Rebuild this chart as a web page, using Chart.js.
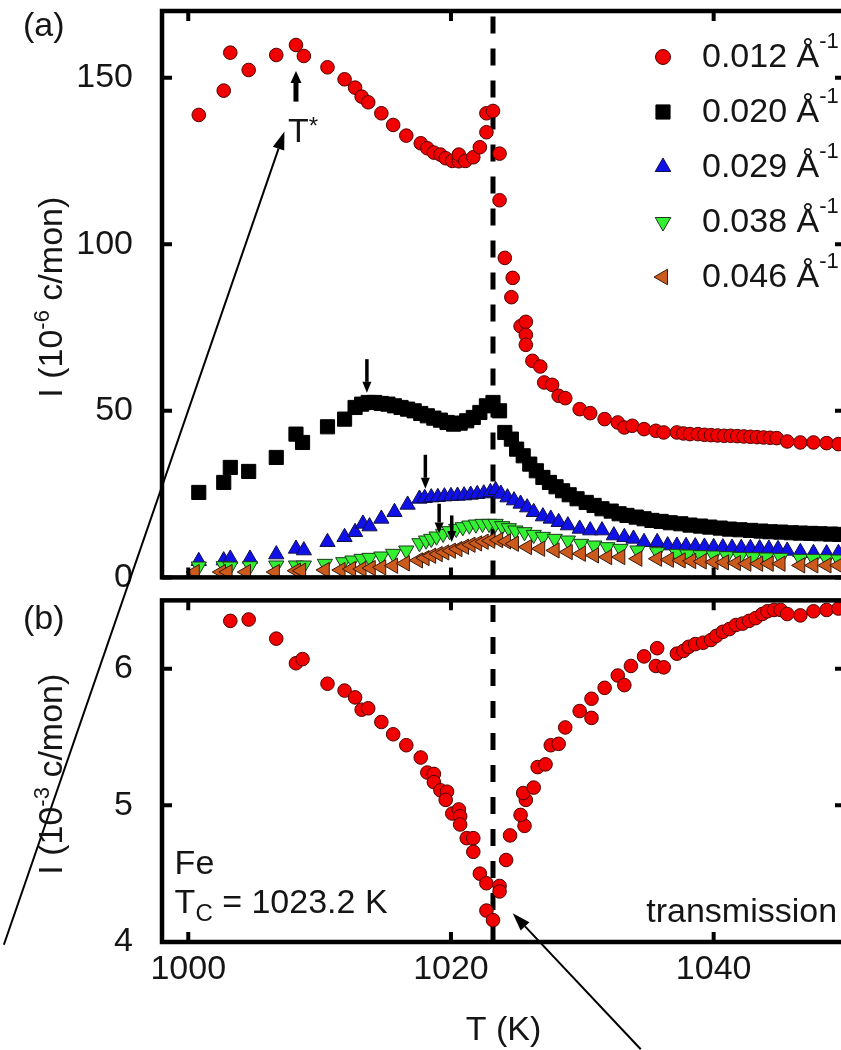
<!DOCTYPE html>
<html><head><meta charset="utf-8">
<script src="https://cdn.jsdelivr.net/npm/chart.js@4.4.0/dist/chart.umd.min.js"></script>
<style>html,body{margin:0;padding:0;overflow:hidden;background:#fff;width:841px;height:1050px}canvas{display:block}</style>
</head><body>
<canvas id="c" width="860" height="1050" style="width:860px;height:1050px"></canvas>
<script>
// ---------- data ----------
const qLabels = ['0.012', '0.020', '0.029', '0.038', '0.046'];
const TC = 1023.2;

const redT = [1000.8,1002.7,1003.2,1004.6,1006.7,1008.2,1008.8,1010.6,1011.9,1012.7,1013.2,1013.7,1014.7,1015.6,1016.6,1017.7,1018.2,1018.7,1019.2,1019.6,1020.1,1020.6,1020.6,1021.1,1021.7,1022.2,1022.7,1022.7,1023.2,1023.7,1023.7,1024.1,1024.7,1024.6,1025.3,1025.7,1025.7,1025.7,1026.2,1026.8,1027.1,1027.7,1028.2,1028.7,1029.8,1030.6,1031.7,1032.7,1033.2,1033.8,1034.7,1035.6,1036.2,1037.2,1037.7,1038.2,1038.8,1039.3,1039.8,1040.3,1040.8,1041.3,1041.8,1042.3,1042.8,1043.3,1043.8,1044.3,1044.8,1045.6,1046.6,1047.6,1048.6,1049.5];
const redV = [138.8,146.1,157.5,152.3,156.8,159.8,156.5,153.1,149.5,147.0,144.3,142.6,139.3,135.8,132.6,130.3,128.8,127.5,126.9,125.8,125.0,124.9,126.9,125.0,126.1,129.1,133.6,139.3,140.0,127.2,113.2,95.9,89.9,84.1,75.4,76.7,72.8,69.8,65.0,63.3,58.5,57.8,54.5,53.8,50.5,49.3,47.5,46.5,45.0,45.5,44.5,44.0,43.5,43.5,43.2,43.0,43.0,42.8,42.7,42.6,42.5,42.5,42.4,42.3,42.2,42.1,42.0,41.9,41.8,40.8,40.5,40.5,40.3,40.0];

const blackT = [1000.8,1002.7,1003.2,1004.6,1006.7,1008.2,1008.7,1010.6,1011.9,1012.7,1013.2,1013.7,1014.2,1014.7,1015.2,1015.7,1016.2,1016.7,1017.2,1017.7,1018.2,1018.7,1019.2,1019.7,1020.2,1020.7,1021.2,1021.7,1022.2,1022.7,1023.2,1023.7,1024.1,1024.6,1025.0,1025.5,1026.0,1026.5,1027.0,1027.5,1028.0,1028.5,1029.0,1029.6,1030.3,1030.9,1031.5,1032.2,1032.8,1033.4,1034.1,1034.7,1035.3,1036.0,1036.7,1037.5,1038.2,1039.0,1039.7,1040.5,1041.2,1042.0,1042.8,1043.6,1044.3,1045.1,1045.9,1046.6,1047.4,1048.1,1048.9,1049.6];
const blackV = [25.5,28.5,33.0,31.8,36.0,43.0,40.5,45.2,47.5,51.0,52.0,52.5,52.5,52.2,52.0,51.5,51.0,50.5,50.0,49.2,48.5,47.8,47.2,46.5,46.0,46.3,47.0,48.0,49.5,51.5,52.5,50.0,43.5,41.5,38.5,36.5,34.0,32.0,30.0,28.5,27.2,26.0,24.8,23.6,22.5,21.6,20.6,19.9,19.1,18.6,18.1,17.6,17.1,16.8,16.4,16.1,15.7,15.4,15.1,14.8,14.5,14.3,14.1,13.9,13.7,13.6,13.4,13.3,13.2,13.1,13.0,12.9];

const blueT = [1000.8,1002.7,1003.2,1004.7,1006.7,1008.2,1008.8,1010.6,1011.9,1012.7,1013.3,1013.8,1014.7,1015.7,1016.7,1017.6,1018.0,1018.5,1019.0,1019.5,1020.0,1020.5,1021.0,1021.5,1022.0,1022.5,1023.0,1023.4,1023.8,1024.3,1024.8,1025.3,1025.8,1026.3,1027.0,1027.6,1028.2,1028.9,1029.8,1030.6,1031.5,1032.4,1033.2,1033.9,1034.7,1035.7,1036.5,1037.2,1037.9,1038.6,1039.3,1040.0,1040.7,1041.4,1042.1,1042.8,1043.5,1044.2,1044.9,1045.6,1046.6,1047.6,1048.6,1049.5];
const blueV = [4.9,5.1,5.6,5.6,6.9,8.6,8.1,10.6,12.1,13.6,16.1,15.3,17.6,19.6,21.8,23.6,23.8,24.0,24.1,24.3,24.4,24.5,24.6,24.8,25.0,25.2,25.6,26.2,25.1,24.0,23.1,22.1,21.0,19.6,18.3,17.6,16.6,15.6,14.6,14.1,14.1,12.6,12.1,11.6,10.6,10.6,9.6,9.5,9.4,9.3,9.2,9.1,9.0,8.9,8.8,8.8,8.7,8.6,8.5,8.0,7.6,7.3,7.2,7.3];

const greenT = [1000.8,1002.7,1003.2,1004.7,1006.7,1008.2,1008.8,1010.4,1011.8,1012.5,1013.2,1013.8,1014.7,1015.6,1016.6,1017.6,1018.1,1018.5,1018.9,1019.4,1019.9,1020.4,1020.9,1021.4,1021.9,1022.4,1022.9,1023.4,1023.9,1024.4,1024.9,1025.6,1026.3,1027.0,1027.9,1028.9,1029.9,1030.9,1031.9,1032.9,1034.2,1035.7,1037.2,1038.0,1039.0,1040.0,1041.0,1042.0,1043.0,1044.0,1045.1,1046.6,1047.6,1048.6,1049.5];
const greenV = [3.3,3.4,3.3,3.4,3.6,3.6,3.6,4.1,4.6,5.1,5.6,5.9,6.3,7.1,8.1,10.3,11.1,11.6,12.3,13.1,13.9,14.6,15.1,15.6,15.9,16.1,16.1,16.1,15.4,14.8,14.1,13.6,12.8,12.2,11.6,11.1,10.1,9.6,9.1,8.6,8.1,7.6,7.1,6.9,6.7,6.6,6.4,6.2,6.1,6.0,5.9,5.6,5.6,5.5,5.4];

const brownT = [1000.5,1002.5,1003.0,1004.4,1006.6,1008.2,1008.6,1010.4,1011.6,1012.4,1013.2,1013.9,1014.7,1015.6,1016.5,1017.5,1018.0,1018.5,1019.0,1019.5,1020.0,1020.5,1021.0,1021.5,1022.0,1022.5,1023.0,1023.6,1024.2,1024.8,1025.8,1026.8,1027.9,1028.9,1029.9,1030.9,1031.9,1032.9,1034.2,1035.7,1036.6,1037.5,1038.3,1039.1,1040.0,1040.8,1041.7,1042.5,1043.4,1044.2,1045.1,1046.6,1047.6,1048.6,1049.5];
const brownV = [1.6,1.6,1.6,1.6,1.6,2.0,2.0,2.2,2.2,2.5,2.5,2.8,3.0,3.5,4.2,5.1,5.8,6.5,7.0,7.5,8.0,8.5,9.2,9.8,10.2,10.7,11.0,11.2,10.8,10.1,9.1,8.6,8.1,7.6,7.1,6.6,6.1,6.1,5.6,5.6,5.3,5.1,4.9,4.8,4.6,4.5,4.3,4.1,4.1,4.1,4.1,3.6,3.6,3.6,3.6];

const transT = [1003.2,1004.6,1006.7,1008.2,1008.7,1010.6,1011.9,1012.7,1013.2,1013.7,1014.7,1015.6,1016.6,1017.7,1018.2,1018.7,1018.7,1019.2,1019.7,1019.6,1020.1,1020.6,1020.7,1020.7,1021.2,1021.7,1021.7,1022.2,1022.7,1022.7,1023.2,1023.7,1023.7,1024.2,1024.5,1025.6,1025.3,1025.7,1025.5,1026.3,1026.6,1027.2,1027.6,1028.2,1028.7,1029.8,1030.7,1030.7,1031.7,1032.7,1033.2,1033.7,1034.7,1035.7,1035.6,1036.2,1037.2,1037.7,1038.1,1038.6,1039.2,1039.8,1040.2,1040.7,1041.2,1041.7,1042.2,1042.7,1043.2,1043.7,1044.1,1044.6,1045.1,1045.6,1046.6,1047.6,1048.6,1049.5];
const transV = [6.35,6.36,6.22,6.04,6.07,5.89,5.84,5.79,5.70,5.71,5.61,5.52,5.44,5.35,5.24,5.23,5.17,5.11,5.10,5.04,4.94,4.97,4.92,4.86,4.76,4.76,4.66,4.50,4.43,4.23,4.16,4.41,4.37,4.60,4.78,4.85,4.93,5.04,5.09,5.13,5.28,5.30,5.44,5.45,5.57,5.69,5.64,5.78,5.86,5.95,5.88,6.02,6.09,6.15,6.02,6.01,6.11,6.13,6.16,6.18,6.19,6.21,6.24,6.27,6.29,6.32,6.33,6.35,6.37,6.40,6.42,6.43,6.43,6.40,6.39,6.42,6.43,6.44];

// axis ranges / ticks
const xRange = [998, 1050], xStep = 20;
const topRange = [0, 170], topStep = 50;
const botRange = [4, 6.5], botStep = 1;

// annotations (data coordinates)
const peakArrows = [ // [T, from, to, lineWidth]
  [1008.2, 142.8, 152.0, 5],
  [1013.6, 65.5, 55.4, 3.5],
  [1018.05, 36.8, 26.6, 3.5],
  [1019.1, 22.1, 13.2, 3.5],
  [1020.06, 18.6, 10.6, 3.5]
];

// ---------- chart ----------
const FONT = '"Liberation Sans", Arial, Helvetica, sans-serif';
const TXT = '#151515';
const pts = (T, V) => T.map((t, i) => ({x: t, y: V[i]}));

const common = {showLine: false, pointBorderWidth: 1, pointHoverRadius: 0};
const datasets = [
  Object.assign({label: qLabels[0], data: pts(redT, redV), yAxisID: 'yTop', pointStyle: 'circle', pointRadius: 6.8,
    pointBackgroundColor: '#f00000', pointBorderColor: '#500000', order: 5, isQ: true}, common),
  Object.assign({label: qLabels[1], data: pts(blackT, blackV), yAxisID: 'yTop', pointStyle: 'rect', pointRadius: 10,
    pointBackgroundColor: '#000000', pointBorderColor: '#000000', order: 4, isQ: true}, common),
  Object.assign({label: qLabels[2], data: pts(blueT, blueV), yAxisID: 'yTop', pointStyle: 'triangle', pointRadius: 8.8,
    pointBackgroundColor: '#1010e8', pointBorderColor: '#10104a', order: 3, isQ: true}, common),
  Object.assign({label: qLabels[3], data: pts(greenT, greenV), yAxisID: 'yTop', pointStyle: 'triangle', pointRotation: 180, pointRadius: 8.8,
    pointBackgroundColor: '#33f033', pointBorderColor: '#1a3a1a', order: 2, isQ: true}, common),
  Object.assign({label: qLabels[4], data: pts(brownT, brownV), yAxisID: 'yTop', pointStyle: 'triangle', pointRotation: 270, pointRadius: 8.8,
    pointBackgroundColor: '#cc5a1c', pointBorderColor: '#3a1a0a', order: 1, isQ: true}, common),
  Object.assign({label: 'trans', data: pts(transT, transV), yAxisID: 'yBot', pointStyle: 'circle', pointRadius: 6.8,
    pointBackgroundColor: '#f00000', pointBorderColor: '#500000', order: 1}, common),
  {label: 'TcTop', data: [{x: TC, y: topRange[0]}, {x: TC, y: topRange[1]}], yAxisID: 'yTop', showLine: true,
    borderColor: '#000', borderWidth: 5, borderDash: [17, 15], pointRadius: 0, order: 10},
  {label: 'TcBot', data: [{x: TC, y: botRange[0]}, {x: TC, y: botRange[1]}], yAxisID: 'yBot', showLine: true,
    borderColor: '#000', borderWidth: 5, borderDash: [17, 15], pointRadius: 0, order: 10}
];

const tickFont = {family: FONT, size: 34};
const noPad = s => { s.paddingTop = 0; s.paddingBottom = 0; s.paddingLeft = 0; s.paddingRight = 0; };
function yAxis(range, step, weight) {
  return {
    type: 'linear', position: 'left', stack: 'v', stackWeight: weight, min: range[0], max: range[1],
    grid: {display: false, drawTicks: false}, border: {display: false},
    ticks: {stepSize: step, includeBounds: false, padding: 29, font: tickFont, color: TXT, callback: v => String(v)},
    afterFit: s => { s.width = 162; noPad(s); }
  };
}

function rich(ctx, parts, x, y, align) {
  let w = 0;
  parts.forEach(p => { ctx.font = p[1] + 'px ' + FONT; p.w = ctx.measureText(p[0]).width; w += p.w; });
  let cx = align === 'right' ? x - w : (align === 'center' ? x - w / 2 : x);
  parts.forEach(p => { ctx.font = p[1] + 'px ' + FONT; ctx.fillText(p[0], cx, y + (p[2] || 0)); cx += p.w; });
}
function arrow(ctx, x1, y1, x2, y2, lw, hl, hw) {
  const a = Math.atan2(y2 - y1, x2 - x1);
  const bx = x2 - hl * Math.cos(a), by = y2 - hl * Math.sin(a);
  ctx.lineWidth = lw; ctx.beginPath(); ctx.moveTo(x1, y1); ctx.lineTo(bx, by); ctx.stroke();
  ctx.beginPath(); ctx.moveTo(x2, y2);
  ctx.lineTo(bx + hw / 2 * Math.sin(a), by - hw / 2 * Math.cos(a));
  ctx.lineTo(bx - hw / 2 * Math.sin(a), by + hw / 2 * Math.cos(a));
  ctx.closePath(); ctx.fill();
}

const decor = {
  id: 'decor',
  afterDraw(chart) {
    const ctx = chart.ctx, xs = chart.scales.x, yt = chart.scales.yTop, yb = chart.scales.yBot;
    const L = chart.chartArea.left, R = chart.chartArea.right;
    ctx.save();
    ctx.strokeStyle = '#000'; ctx.fillStyle = '#000'; ctx.lineCap = 'butt';
    // frames + inward ticks
    [yt, yb].forEach(ys => {
      const T = ys.top, B = ys.bottom, TL = 10;
      ctx.lineWidth = 4.5; ctx.strokeRect(L, T, R - L, B - T);
      ctx.lineWidth = 4; ctx.beginPath();
      xs.ticks.forEach(t => { const p = xs.getPixelForValue(t.value); ctx.moveTo(p, B); ctx.lineTo(p, B - TL); ctx.moveTo(p, T); ctx.lineTo(p, T + TL); });
      ys.ticks.forEach(t => { const p = ys.getPixelForValue(t.value); ctx.moveTo(L, p); ctx.lineTo(L + TL, p); ctx.moveTo(R, p); ctx.lineTo(R - TL, p); });
      ctx.stroke();
    });
    // peak arrows
    peakArrows.forEach((a, i) => {
      const x = xs.getPixelForValue(a[0]);
      arrow(ctx, x, yt.getPixelForValue(a[1]), x, yt.getPixelForValue(a[2]), a[3], i === 0 ? 12 : 11, i === 0 ? 11 : 9);
    });
    // long arrows
    arrow(ctx, xs.getPixelForValue(985.96), yb.getPixelForValue(3.98), xs.getPixelForValue(1007.32), yt.getPixelForValue(133.8), 2, 18, 12);
    arrow(ctx, xs.getPixelForValue(1034.45), yb.getPixelForValue(3.215), xs.getPixelForValue(1024.7), yb.getPixelForValue(4.21), 2, 18, 12);

    ctx.fillStyle = TXT; ctx.textAlign = 'left'; ctx.textBaseline = 'alphabetic';
    // T* label
    rich(ctx, [['T', 34], ['*', 24, -8]], xs.getPixelForValue(1007.6), yt.getPixelForValue(130.8), 'left');
    // legend
    chart.data.datasets.filter(d => d.isQ).forEach((d, i) => {
      const cy = 57 + 55 * i;
      ctx.fillStyle = d.pointBackgroundColor; ctx.strokeStyle = d.pointBorderColor; ctx.lineWidth = 1;
      Chart.helpers.drawPoint(ctx, {pointStyle: d.pointStyle, rotation: d.pointRotation || 0, radius: d.pointStyle === 'circle' ? 7.5 : (d.pointStyle === 'rect' ? 10 : 9), borderWidth: 1}, 663, cy);
      ctx.fillStyle = TXT;
      rich(ctx, [[d.label, 34], [' Å', 34], ['-1', 22, -19]], 702, cy + 10, 'left');
    });
    // panel labels
    ctx.font = '34px ' + FONT; ctx.fillStyle = TXT;
    ctx.fillText('(a)', 23, 36);
    ctx.fillText('(b)', 23, 629);
    // bottom panel texts
    rich(ctx, [['Fe', 34]], xs.getPixelForValue(998.96), yb.getPixelForValue(4.50), 'left');
    rich(ctx, [['T', 34], ['C', 24, 8], [' = 1023.2 K', 34]], xs.getPixelForValue(998.96), yb.getPixelForValue(4.21), 'left');
    rich(ctx, [['transmission', 34]], xs.getPixelForValue(1049.4), yb.getPixelForValue(4.15), 'right');
    // axis titles
    rich(ctx, [['T (K)', 34]], (L + R) / 2, 1040, 'center');
    [[yt, '-6'], [yb, '-3']].forEach(([ys, e]) => {
      ctx.save();
      ctx.translate(62, (ys.top + ys.bottom) / 2 + 3);
      ctx.rotate(-Math.PI / 2);
      rich(ctx, [['I (10', 34], [e, 22, -13], [' c/mon)', 34]], 0, 0, 'center');
      ctx.restore();
    });
    ctx.restore();
  }
};

new Chart(document.getElementById('c'), {
  type: 'scatter',
  data: {datasets},
  options: {
    responsive: false, animation: false, devicePixelRatio: 1, events: [],
    layout: {padding: {left: 0, top: 10, right: 15, bottom: 0}},
    plugins: {legend: {display: false}, tooltip: {enabled: false}},
    scales: {
      x: {
        type: 'linear', position: 'bottom', min: xRange[0], max: xRange[1],
        grid: {display: false, drawTicks: false}, border: {display: false},
        ticks: {stepSize: xStep, includeBounds: false, padding: 7, font: tickFont, color: TXT, maxRotation: 0, callback: v => String(v)},
        afterFit: s => { s.height = 108; noPad(s); }
      },
      yBot: yAxis(botRange, botStep, 342),
      ySpace: {
        type: 'linear', position: 'left', stack: 'v', stackWeight: 23, min: 0, max: 1,
        grid: {display: false, drawTicks: false}, border: {display: false}, ticks: {display: false},
        afterFit: s => { s.width = 162; noPad(s); }
      },
      yTop: yAxis(topRange, topStep, 567)
    }
  },
  plugins: [decor]
});
</script>
</body></html>
